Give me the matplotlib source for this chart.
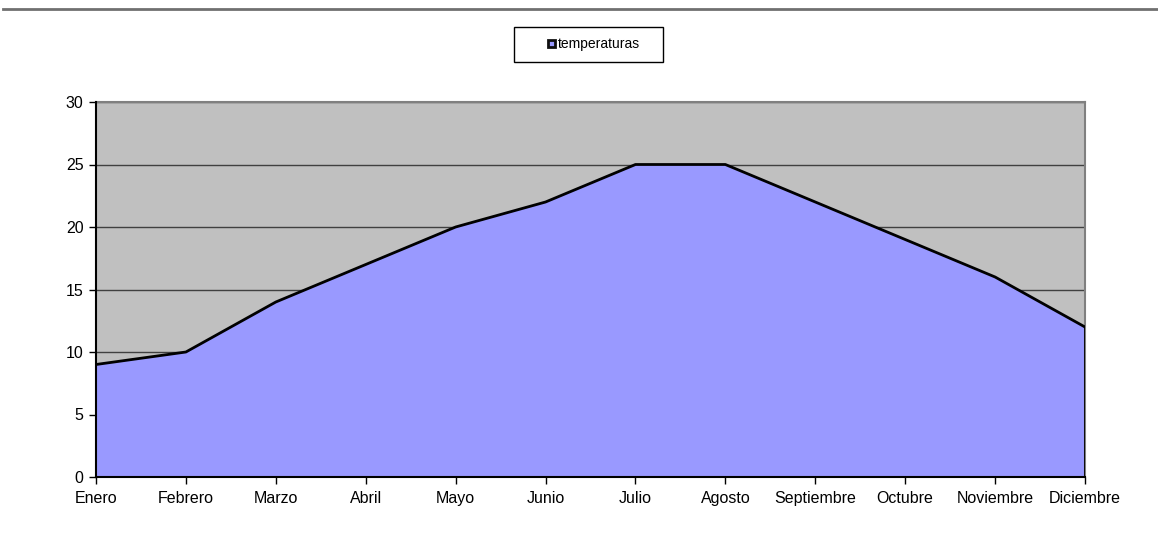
import matplotlib
matplotlib.use('Agg')
import matplotlib.pyplot as plt
from matplotlib.lines import Line2D
from matplotlib.patches import Rectangle

plt.rcParams['font.family'] = ['Liberation Sans', 'DejaVu Sans']

meses = ['Enero', 'Febrero', 'Marzo', 'Abril', 'Mayo', 'Junio', 'Julio',
         'Agosto', 'Septiembre', 'Octubre', 'Noviembre', 'Diciembre']
temperaturas = [9, 10, 14, 17, 20, 22, 25, 25, 22, 19, 16, 12]
yticks = [0, 5, 10, 15, 20, 25, 30]
serie = 'temperaturas'

W, H = 1158, 540
fig = plt.figure(figsize=(W/100, H/100), dpi=100)
ax = fig.add_axes([96/W, 1-477/H, (1085-96)/W, (477-102)/H])
ax.set_facecolor('#C0C0C0')

x = list(range(len(meses)))
ax.fill_between(x, temperaturas, 0, color='#9999FF', zorder=2)
ax.plot(x, temperaturas, color='black', lw=2, zorder=3)
ax.plot([x[-1], x[-1]], [0, temperaturas[-1]], color='black', lw=2, zorder=3)

ax.set_xlim(0, len(meses)-1)
ax.set_ylim(0, 30)
ax.set_xticks(x)
ax.set_xticklabels(meses, fontsize=11.5, va='baseline')
ax.set_yticks(yticks)
ax.set_yticklabels([str(v) for v in yticks], fontsize=11.5)
ax.yaxis.grid(True, color='#404040', lw=1, zorder=1)
ax.set_axisbelow(True)
ax.tick_params(axis='y', direction='out', length=5, width=1, colors='black', pad=4)
# baseline-aligned month labels (pad in points: ~19 px below tick end)
ax.tick_params(axis='x', direction='out', length=5, width=1, colors='black', pad=13.5)

for s in ['top', 'right']:
    ax.spines[s].set_color('#808080')
    ax.spines[s].set_linewidth(1.5)
for s in ['left', 'bottom']:
    ax.spines[s].set_color('black')
    ax.spines[s].set_linewidth(1.5)
    ax.spines[s].set_zorder(4)

# legend box drawn by hand (Excel style)
fig.add_artist(Rectangle((514/W, 1-62/H), 149/W, 35/H, transform=fig.transFigure,
                         facecolor='white', edgecolor='black', lw=1))
fig.add_artist(Rectangle((547.5/W, 1-47/H), 7/W, 7/H, transform=fig.transFigure,
                         facecolor='#9999FF', edgecolor='#101010', lw=2))
fig.text(558/W, 1-44/H, serie, fontsize=10, ha='left', va='center')

# top separator line
fig.add_artist(Line2D([3/W, 1], [1-9/H, 1-9/H], color='#707070', lw=2))

fig.savefig('out.png', dpi=100)
